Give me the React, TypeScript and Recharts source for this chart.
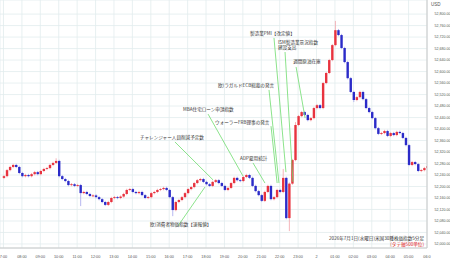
import React from 'react';
import { ComposedChart, Bar, XAxis, YAxis, CartesianGrid, ReferenceLine, ReferenceDot } from 'recharts';

// hourly tick labels, 7:00 day 1 -> 06:00 day 2
const hourLabels = [
  '7:00', '08:00', '09:00', '10:00', '11:00', '12:00', '13:00', '14:00', '15:00', '16:00', '17:00', '18:00',
  '19:00', '20:00', '21:00', '22:00', '23:00', '2', '01:00', '02:00', '03:00', '04:00', '05:00', '06:0',
];
const priceTicks = [
  52000, 52040, 52080, 52120, 52160, 52200, 52240, 52280, 52320, 52360, 52400,
  52440, 52480, 52520, 52560, 52600, 52640, 52680, 52720, 52760, 52800,
];

// 10 minute closes
const firstOpen = 52230;
const closes = [
  52236, 52257, 52268, 52275, 52268, 52247, 52236, 52240, 52236, 52243,
  52250, 52243, 52254, 52261, 52264, 52275, 52282, 52289, 52236, 52226,
  52219, 52205, 52208, 52202, 52205, 52177, 52181, 52174, 52167, 52169,
  52163, 52156, 52146, 52136, 52146, 52160, 52163, 52160, 52165, 52174,
  52188, 52191, 52181, 52177, 52181, 52170, 52160, 52163, 52177, 52181,
  52188, 52191, 52195, 52188, 52163, 52118, 52146, 52153, 52163, 52177,
  52191, 52198, 52212, 52222, 52226, 52216, 52208, 52202, 52216, 52222,
  52212, 52202, 52188, 52195, 52212, 52230, 52222, 52219, 52233, 52240,
  52230, 52202, 52184, 52170, 52150, 52181, 52202, 52156, 52163, 52188,
  52181, 52230, 52090, 52210, 52292, 52414, 52445, 52459, 52449, 52431,
  52438, 52473, 52483, 52473, 52560, 52595, 52640, 52692, 52744, 52727,
  52682, 52633, 52577, 52529, 52501, 52511, 52529, 52504, 52473, 52459,
  52438, 52403, 52383, 52386, 52393, 52376, 52386, 52379, 52390, 52386,
  52369, 52344, 52275, 52285, 52278, 52254, 52257, 52264, 52271,
];
const highWicks: Record<number, number> = { 17: 52294, 91: 52257, 108: 52772, 95: 52420 };
const lowWicks: Record<number, number> = { 25: 52136, 55: 52101, 92: 52090, 93: 52049, 114: 52498 };

// economic events shown on the chart
const eventNames = [
  '製造業PMI【改定値】',
  'ISM製造業景況指数',
  '週間原油在庫',
  '欧)ラガルドECB総裁の発言',
  'MBA住宅ローン申請指数',
  'ウォーラーFRB理事の発言',
  'チャレンジャー人員削減予定数',
  'ADP雇用統計',
  '欧)消費者物価指数【速報値】',
];
const eventSubNames = ['', '建設支出', '', '', '', '', '', '', ''];

// [label t, label price, line start t, start price, line end t, end price]
const eventLayout = [
  [13.39, 52727, 14.69, 52717, 15.34, 52250],
  [14.91, 52696, 15.29, 52668, 15.72, 52216],
  [15.73, 52630, 15.89, 52616, 16.38, 52438],
  [11.65, 52546, 14.42, 52536, 14.96, 52212],
  [9.75, 52463, 11.11, 52452, 13.01, 52236],
  [11.49, 52418, 14.53, 52410, 14.86, 52212],
  [7.41, 52365, 9.31, 52355, 11.38, 52223],
  [12.85, 52292, 13.55, 52282, 14.2, 52212],
  [7.96, 52063, 9.48, 52063, 10.94, 52198],
];

const UP = '#e8333f';
const DOWN = '#2b2bc8';
const UP_WICK = '#f2a2aa';
const DOWN_WICK = '#a4a4ec';
const JP = '"Noto Sans CJK JP", "Noto Sans", sans-serif';
const NUM = '"Liberation Sans", Arial, sans-serif';

const candles = closes.map((c, i) => {
  const o = i === 0 ? firstOpen : closes[i - 1];
  const h = highWicks[i] ?? Math.max(o, c);
  const l = lowWicks[i] ?? Math.min(o, c);
  return { t: i / 6, o, c, h, l, range: [l, h] };
});

const Candle = (props: any) => {
  const { x, y, width, height, payload } = props;
  const { o, c, h, l } = payload;
  const cx = x + width / 2;
  const ppu = h > l ? height / (h - l) : 0;
  const top = y + (h - Math.max(o, c)) * ppu;
  const bot = y + (h - Math.min(o, c)) * ppu;
  const up = c >= o;
  return (
    <g>
      <line x1={cx} x2={cx} y1={y - 1.2} y2={y + height + 1.2} stroke={up ? UP_WICK : DOWN_WICK} strokeWidth={0.8} />
      <rect x={cx - 1.2} y={top} width={2.4} height={Math.max(bot - top, 0.9)} fill={up ? UP : DOWN} />
    </g>
  );
};

const EventText = ({ viewBox, name, sub }: any) => (
  <text x={viewBox.x} y={viewBox.y} fontSize={4.6} fill="#333" fontFamily={JP}>
    <tspan x={viewBox.x}>{name}</tspan>
    {sub ? <tspan x={viewBox.x} dy={5}>{sub}</tspan> : null}
  </text>
);

export default function App() {
  return (
    <div style={{ position: 'relative', width: 450, height: 258, background: '#fff', fontFamily: JP }}>
      <style>{`body{margin:0}`}</style>
      <ComposedChart width={450} height={258} data={candles} margin={{ top: 0, right: 0, bottom: 0, left: 0 }}>
        <CartesianGrid stroke="#e2eced" strokeWidth={0.8} />
        <XAxis
          dataKey="t"
          type="number"
          domain={[-0.19, 23.0]}
          allowDataOverflow
          ticks={hourLabels.map((_, i) => i)}
          tickFormatter={(v: number) => hourLabels[v] ?? ''}
          height={10}
          tick={{ fontSize: 3.8, fill: '#555', fontFamily: NUM }}
          tickLine={false}
          stroke="#c8c8c8"
          interval={0}
          tickMargin={1.5}
        />
        <YAxis
          orientation="right"
          type="number"
          domain={[51986, 52849]}
          allowDataOverflow
          ticks={priceTicks}
          tickFormatter={(v: number) => v.toLocaleString('en-US') + '.00'}
          width={23}
          tick={{ fontSize: 3.6, fill: '#555', fontFamily: NUM }}
          tickLine={false}
          stroke="#c8c8c8"
          interval={0}
          tickMargin={1.5}
        />
        <Bar dataKey="range" barSize={2} shape={<Candle />} isAnimationActive={false} />
        {eventLayout.map((e, i) => (
          <ReferenceLine
            key={`l${i}`}
            segment={[{ x: e[2], y: e[3] }, { x: e[4], y: e[5] }]}
            stroke="#6fdc6f"
            strokeWidth={0.8}
            ifOverflow="visible"
          />
        ))}
        {eventLayout.map((e, i) => (
          <ReferenceDot
            key={`d${i}`}
            x={e[0]}
            y={e[1]}
            r={0.01}
            fill="none"
            stroke="none"
            ifOverflow="visible"
            label={<EventText name={eventNames[i]} sub={eventSubNames[i]} />}
          />
        ))}
      </ComposedChart>
      <div style={{ position: 'absolute', left: 431, top: 2, fontSize: 4.5, color: '#555', fontFamily: NUM }}>USD</div>
      <div style={{ position: 'absolute', right: 26, top: 235, fontSize: 4.6, color: '#333', textAlign: 'right', lineHeight: '6px', whiteSpace: 'nowrap' }}>
        <div>2026年7月1日(水曜日)米国30種株価指数5分足</div>
        <div style={{ color: '#e02020' }}>(タテ軸500単位)</div>
      </div>
    </div>
  );
}
